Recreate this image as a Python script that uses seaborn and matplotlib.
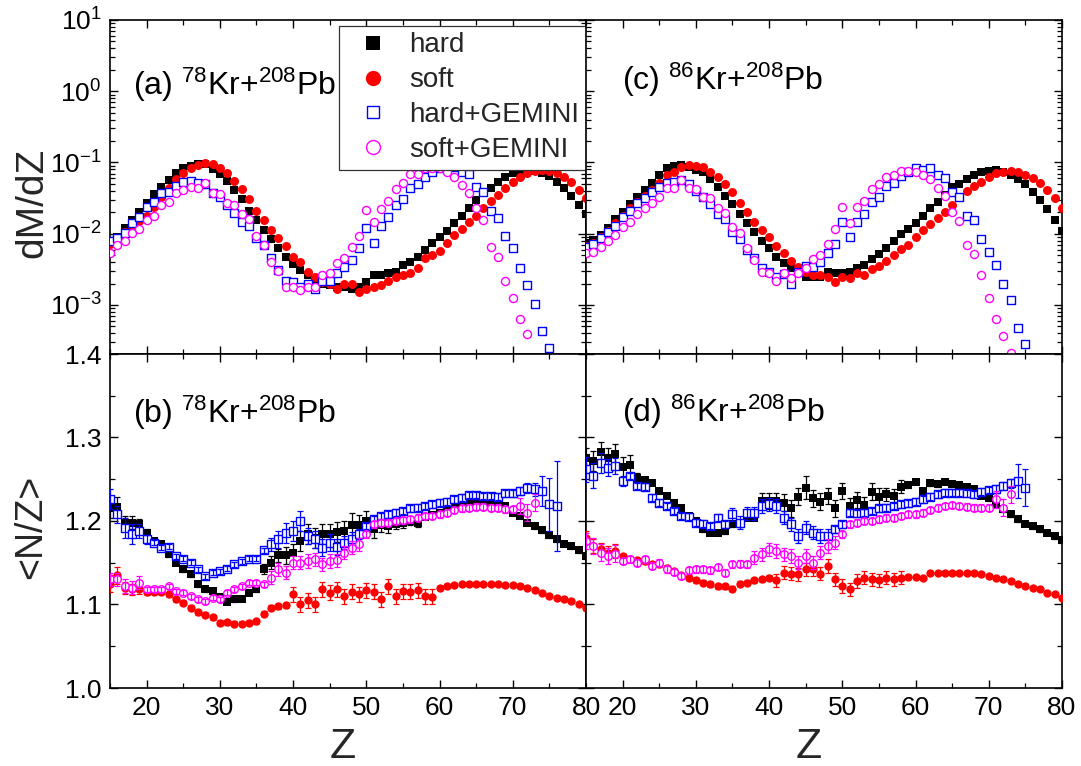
import numpy as np
import matplotlib
matplotlib.use("Agg")
import matplotlib.pyplot as plt
import seaborn as sns
from matplotlib.ticker import MultipleLocator, FormatStrFormatter, NullFormatter, LogLocator
from matplotlib.lines import Line2D

# ---------------- data ----------------
Z_full = np.arange(15, 81)     # hard / soft
Z_to75 = np.arange(15, 76)
Z_to76 = np.arange(15, 77)
Z_to72 = np.arange(15, 73)
Z_to73 = np.arange(15, 74)

# panel (a) 78Kr+208Pb dM/dZ
a_hard = [0.0078, 0.0089, 0.012, 0.0155, 0.020, 0.027, 0.036, 0.046, 0.056, 0.071,
          0.083, 0.089, 0.095, 0.094, 0.081, 0.069, 0.055, 0.041, 0.031, 0.021,
          0.0155, 0.0112, 0.0085, 0.0063, 0.0047, 0.0038, 0.0031, 0.0026, 0.0022, 0.0020,
          0.0019, 0.0018, 0.0018, 0.0017, 0.0018, 0.0021, 0.0026, 0.0026, 0.0028, 0.0029,
          0.0036, 0.0040, 0.0047, 0.0059, 0.0074, 0.0089, 0.011, 0.014, 0.018, 0.023,
          0.030, 0.037, 0.044, 0.053, 0.063, 0.071, 0.076, 0.078, 0.077, 0.072,
          0.065, 0.054, 0.044, 0.034, 0.025, 0.019]
a_soft = [0.0072, 0.0085, 0.0105, 0.013, 0.015, 0.018, 0.024, 0.033, 0.044, 0.059,
          0.071, 0.083, 0.092, 0.097, 0.094, 0.083, 0.071, 0.055, 0.043, 0.031,
          0.021, 0.0155, 0.0112, 0.0087, 0.0068, 0.0047, 0.0040, 0.0029, 0.0025, 0.0021,
          0.0020, 0.0017, 0.0020, 0.0020, 0.0015, 0.0017, 0.0018, 0.0019, 0.0022, 0.0025,
          0.0026, 0.0028, 0.0033, 0.0046, 0.0050, 0.0057, 0.0074, 0.0095, 0.0116, 0.0146,
          0.018, 0.023, 0.029, 0.035, 0.044, 0.053, 0.063, 0.071, 0.077, 0.079,
          0.075, 0.071, 0.063, 0.054, 0.041, 0.032]
a_hg = [0.0080, 0.0087, 0.0103, 0.0141, 0.0174, 0.024, 0.028, 0.037, 0.038, 0.047,
        0.054, 0.055, 0.052, 0.050, 0.037, 0.033, 0.025, 0.0195, 0.0145, 0.013,
        0.0087, 0.0069, 0.0046, 0.0031, 0.0022, 0.0021, 0.0018, 0.0020, 0.0017, 0.0022,
        0.0022, 0.0028, 0.0034, 0.0043, 0.0063, 0.012, 0.0074, 0.013, 0.0173, 0.025,
        0.031, 0.044, 0.050, 0.063, 0.074, 0.083, 0.086, 0.086, 0.074, 0.069,
        0.046, 0.039, 0.021, 0.0166, 0.0094, 0.0063, 0.0033, 0.0019, 0.00103, 0.00043,
        0.00025]
a_sg = [0.0054, 0.0069, 0.0078, 0.0101, 0.0118, 0.0155, 0.018, 0.025, 0.028, 0.037,
        0.041, 0.045, 0.044, 0.051, 0.037, 0.036, 0.027, 0.025, 0.019, 0.016,
        0.0094, 0.0069, 0.0040, 0.0030, 0.0018, 0.0018, 0.0016, 0.0018, 0.0018, 0.0026,
        0.0028, 0.0039, 0.0046, 0.0065, 0.0094, 0.0215, 0.0146, 0.022, 0.029, 0.042,
        0.051, 0.069, 0.069, 0.084, 0.084, 0.084, 0.074, 0.063, 0.048, 0.037,
        0.023, 0.0155, 0.0065, 0.0047, 0.0022, 0.00124, 0.00064, 0.00039]

# panel (c) 86Kr+208Pb dM/dZ
c_hard = [0.0075, 0.0082, 0.0097, 0.012, 0.016, 0.020, 0.026, 0.033, 0.041, 0.051,
          0.066, 0.084, 0.089, 0.092, 0.086, 0.078, 0.074, 0.059, 0.046, 0.034,
          0.026, 0.019, 0.014, 0.0106, 0.0078, 0.0063, 0.0047, 0.0039, 0.0033, 0.0029,
          0.0025, 0.0025, 0.0025, 0.0029, 0.0028, 0.0028, 0.0029, 0.0033, 0.0036, 0.0044,
          0.0052, 0.0063, 0.0078, 0.0099, 0.0116, 0.014, 0.018, 0.023, 0.028, 0.035,
          0.046, 0.050, 0.059, 0.066, 0.074, 0.076, 0.078, 0.074, 0.066, 0.059,
          0.050, 0.039, 0.030, 0.022, 0.0155, 0.011]
c_soft = [0.0068, 0.0075, 0.009, 0.011, 0.014, 0.018, 0.023, 0.028, 0.034, 0.041,
          0.051, 0.066, 0.074, 0.086, 0.092, 0.089, 0.086, 0.074, 0.063, 0.050,
          0.039, 0.027, 0.020, 0.0146, 0.0112, 0.0089, 0.0068, 0.0054, 0.0042, 0.0034,
          0.0029, 0.0026, 0.0026, 0.0025, 0.0021, 0.0025, 0.0024, 0.0028, 0.0026, 0.0032,
          0.0035, 0.0041, 0.0051, 0.0061, 0.0069, 0.0089, 0.0112, 0.0137, 0.0166, 0.020,
          0.025, 0.033, 0.040, 0.047, 0.053, 0.063, 0.071, 0.074, 0.076, 0.074,
          0.066, 0.061, 0.051, 0.041, 0.032, 0.023]
c_hg = [0.0065, 0.0072, 0.0088, 0.0106, 0.013, 0.017, 0.021, 0.027, 0.032, 0.039,
        0.046, 0.051, 0.053, 0.056, 0.050, 0.040, 0.033, 0.026, 0.019, 0.016,
        0.0106, 0.0085, 0.0059, 0.0046, 0.0033, 0.0029, 0.0025, 0.0027, 0.0020, 0.0029,
        0.0035, 0.0034, 0.0040, 0.0053, 0.0071, 0.0146, 0.0089, 0.0146, 0.019, 0.028,
        0.033, 0.047, 0.051, 0.064, 0.074, 0.083, 0.078, 0.083, 0.067, 0.060,
        0.039, 0.033, 0.018, 0.0155, 0.0085, 0.0056, 0.0036, 0.0020, 0.00117, 0.00047,
        0.00028]
c_sg = [0.0054, 0.0056, 0.0065, 0.0078, 0.0095, 0.0124, 0.0146, 0.019, 0.023, 0.027,
        0.033, 0.044, 0.044, 0.056, 0.044, 0.043, 0.033, 0.032, 0.023, 0.0195,
        0.0124, 0.0101, 0.0063, 0.0043, 0.0029, 0.0028, 0.0022, 0.0028, 0.0024, 0.0028,
        0.0033, 0.0044, 0.0050, 0.0071, 0.0116, 0.024, 0.014, 0.024, 0.029, 0.042,
        0.050, 0.063, 0.066, 0.076, 0.076, 0.074, 0.066, 0.059, 0.044, 0.034,
        0.020, 0.015, 0.0069, 0.0052, 0.0026, 0.00127, 0.00063, 0.00037, 0.00021]

# panel (b) 78Kr+208Pb <N/Z>
b_hard = [1.215, 1.217, 1.198, 1.198, 1.196, 1.186, 1.176, 1.172, 1.160, 1.150,
          1.142, 1.136, 1.124, 1.118, 1.116, 1.109, 1.103, 1.106, 1.107, 1.114,
          1.118, 1.143, 1.150, 1.159, 1.159, 1.162, 1.176, 1.184, 1.180, 1.184,
          1.184, 1.187, 1.188, 1.195, 1.195, 1.200, 1.190, 1.195, 1.194, 1.197,
          1.198, 1.200, 1.198, 1.205, 1.207, 1.210, 1.212, 1.215, 1.218, 1.220,
          1.222, 1.222, 1.222, 1.220, 1.218, 1.210, 1.206, 1.198, 1.194, 1.189,
          1.183, 1.178, 1.173, 1.170, 1.165, 1.158]
b_hard_err = ([0.012, 0.012, 0.008, 0.008, 0.006, 0.005] + [0.003] * 15 +
              [0.006, 0.008, 0.008, 0.010, 0.010, 0.012, 0.012, 0.012, 0.012, 0.012, 0.012,
               0.012, 0.014, 0.012, 0.012, 0.010, 0.008, 0.008, 0.006, 0.006, 0.005, 0.005] +
              [0.003] * 23)
b_soft = [1.125, 1.135, 1.120, 1.118, 1.118, 1.115, 1.115, 1.115, 1.112, 1.106,
          1.102, 1.096, 1.091, 1.088, 1.085, 1.078, 1.079, 1.077, 1.077, 1.078,
          1.080, 1.089, 1.096, 1.098, 1.099, 1.112, 1.100, 1.105, 1.100, 1.118,
          1.114, 1.118, 1.110, 1.115, 1.112, 1.117, 1.115, 1.106, 1.122, 1.110,
          1.116, 1.115, 1.117, 1.110, 1.109, 1.120, 1.122, 1.123, 1.124, 1.124,
          1.125, 1.124, 1.125, 1.124, 1.123, 1.123, 1.122, 1.120, 1.117, 1.114,
          1.110, 1.108, 1.106, 1.104, 1.100, 1.096]
b_soft_err = [0.010, 0.010, 0.007, 0.007, 0.006, 0.004] + [0.003] * 19 + [0.009] * 20 + [0.002] * 21
b_hg = [1.226, 1.208, 1.192, 1.184, 1.188, 1.178, 1.174, 1.168, 1.169, 1.158,
        1.155, 1.150, 1.142, 1.134, 1.138, 1.140, 1.143, 1.148, 1.152, 1.155,
        1.155, 1.165, 1.172, 1.178, 1.186, 1.188, 1.200, 1.182, 1.178, 1.168,
        1.174, 1.169, 1.174, 1.179, 1.185, 1.194, 1.202, 1.206, 1.208, 1.210,
        1.212, 1.215, 1.216, 1.218, 1.220, 1.222, 1.223, 1.226, 1.228, 1.231,
        1.231, 1.230, 1.230, 1.229, 1.233, 1.233, 1.236, 1.239, 1.238, 1.236,
        1.220, 1.218]
b_hg_err = ([0.012, 0.010, 0.012, 0.012, 0.008, 0.005] + [0.003] * 16 +
            [0.008, 0.010, 0.012, 0.012, 0.012, 0.010, 0.010, 0.010, 0.010, 0.010, 0.008, 0.008, 0.006] +
            [0.004] * 21 + [0.005, 0.006, 0.008, 0.018, 0.032, 0.054])
b_sg = [1.130, 1.130, 1.122, 1.120, 1.126, 1.118, 1.118, 1.118, 1.122, 1.116,
        1.114, 1.110, 1.106, 1.104, 1.108, 1.106, 1.114, 1.118, 1.122, 1.126,
        1.126, 1.124, 1.132, 1.142, 1.138, 1.150, 1.150, 1.152, 1.154, 1.148,
        1.152, 1.153, 1.162, 1.168, 1.172, 1.184, 1.196, 1.198, 1.198, 1.200,
        1.201, 1.202, 1.204, 1.206, 1.206, 1.208, 1.210, 1.213, 1.215, 1.216,
        1.217, 1.217, 1.216, 1.216, 1.214, 1.214, 1.218, 1.210, 1.222]
b_sg_err = [0.008] * 5 + [0.003] * 17 + [0.008] * 13 + [0.004] * 21 + [0.010] * 3

# panel (d) 86Kr+208Pb <N/Z>
d_hard = [1.276, 1.272, 1.283, 1.276, 1.280, 1.265, 1.267, 1.252, 1.249, 1.246,
          1.236, 1.230, 1.222, 1.215, 1.206, 1.200, 1.190, 1.186, 1.186, 1.188,
          1.196, 1.196, 1.204, 1.204, 1.224, 1.224, 1.224, 1.222, 1.215, 1.229,
          1.240, 1.227, 1.223, 1.230, 1.215, 1.236, 1.218, 1.225, 1.219, 1.235,
          1.229, 1.232, 1.230, 1.241, 1.243, 1.247, 1.236, 1.245, 1.244, 1.247,
          1.244, 1.243, 1.241, 1.238, 1.230, 1.227, 1.220, 1.214, 1.208, 1.202,
          1.197, 1.194, 1.190, 1.186, 1.182, 1.177]
d_hard_err = ([0.012] * 7 + [0.006] + [0.003] * 16 +
              [0.010, 0.010, 0.010, 0.010, 0.010, 0.010, 0.014, 0.010, 0.010, 0.010,
               0.010, 0.010, 0.010, 0.010, 0.010, 0.010, 0.010, 0.008, 0.008, 0.008] +
              [0.003] * 22)
d_soft = [1.180, 1.170, 1.166, 1.162, 1.164, 1.158, 1.154, 1.153, 1.152, 1.148,
          1.148, 1.144, 1.140, 1.135, 1.132, 1.129, 1.126, 1.124, 1.122, 1.122,
          1.119, 1.125, 1.126, 1.129, 1.130, 1.132, 1.129, 1.138, 1.137, 1.136,
          1.142, 1.142, 1.137, 1.146, 1.130, 1.122, 1.118, 1.128, 1.132, 1.130,
          1.129, 1.132, 1.130, 1.132, 1.133, 1.133, 1.132, 1.138, 1.138, 1.138,
          1.138, 1.138, 1.138, 1.138, 1.137, 1.134, 1.132, 1.130, 1.128, 1.125,
          1.122, 1.120, 1.118, 1.114, 1.112, 1.108]
d_soft_err = [0.008] * 5 + [0.003] * 21 + [0.008] * 18 + [0.002] * 22
d_hg = [1.262, 1.254, 1.270, 1.264, 1.266, 1.248, 1.254, 1.242, 1.241, 1.228,
        1.222, 1.218, 1.212, 1.206, 1.205, 1.198, 1.197, 1.194, 1.204, 1.196,
        1.208, 1.198, 1.209, 1.209, 1.218, 1.220, 1.218, 1.204, 1.196, 1.182,
        1.192, 1.186, 1.182, 1.182, 1.190, 1.196, 1.210, 1.209, 1.210, 1.212,
        1.215, 1.216, 1.218, 1.220, 1.221, 1.223, 1.226, 1.229, 1.232, 1.234,
        1.234, 1.234, 1.233, 1.232, 1.235, 1.237, 1.238, 1.242, 1.245, 1.248,
        1.240]
d_hg_err = ([0.015, 0.015, 0.012, 0.010, 0.010, 0.006] + [0.004] * 14 + [0.008] * 14 +
            [0.004] * 22 + [0.005] * 3 + [0.020, 0.022])
d_sg = [1.176, 1.170, 1.162, 1.158, 1.161, 1.152, 1.154, 1.150, 1.154, 1.146,
        1.150, 1.142, 1.139, 1.134, 1.141, 1.142, 1.142, 1.141, 1.145, 1.138,
        1.148, 1.149, 1.148, 1.156, 1.160, 1.166, 1.164, 1.160, 1.158, 1.150,
        1.158, 1.150, 1.162, 1.170, 1.174, 1.184, 1.196, 1.198, 1.200, 1.200,
        1.202, 1.204, 1.204, 1.206, 1.208, 1.208, 1.210, 1.213, 1.216, 1.218,
        1.219, 1.218, 1.217, 1.216, 1.216, 1.216, 1.226, 1.216, 1.232]
d_sg_err = [0.010] * 5 + [0.004] * 18 + [0.008] * 12 + [0.004] * 21 + [0.010] * 3

labels = ["hard", "soft", "hard+GEMINI", "soft+GEMINI"]

# ---------------- style ----------------
sns.set_theme(style="ticks")
plt.rcParams['font.family'] = ['Liberation Sans', 'DejaVu Sans']
plt.rcParams['mathtext.fontset'] = 'custom'
plt.rcParams['mathtext.rm'] = 'Liberation Sans'
plt.rcParams['mathtext.it'] = 'Liberation Sans:italic'
plt.rcParams['mathtext.bf'] = 'Liberation Sans:bold'

BLACK, RED, BLUE, MAG = "#000000", "#FF0000", "#0000FF", "#FF00FF"

W, H = 1081, 766
fig = plt.figure(figsize=(W / 100, H / 100), dpi=100)


def rect(x0, x1, y0, y1):
    return [x0 / W, 1 - y1 / H, (x1 - x0) / W, (y1 - y0) / H]


axA = fig.add_axes(rect(110, 586, 20, 354))
axC = fig.add_axes(rect(586, 1062, 20, 354))
axB = fig.add_axes(rect(110, 586, 354, 688))
axD = fig.add_axes(rect(586, 1062, 354, 688))


def draw_top(ax, hard, soft, hg, sg, zhg, zsg):
    ax.set_yscale('log')
    sns.scatterplot(x=Z_full, y=hard, ax=ax, marker='s', s=32, color=BLACK,
                    edgecolor=BLACK, linewidth=0, zorder=2, legend=False)
    sns.scatterplot(x=Z_full, y=soft, ax=ax, marker='o', s=42, color=RED,
                    edgecolor=RED, linewidth=0, zorder=3, legend=False)
    sns.scatterplot(x=zhg, y=hg, ax=ax, marker='s', s=28, facecolor='white',
                    edgecolor=BLUE, linewidth=1.0, zorder=4, legend=False)
    sns.scatterplot(x=zsg, y=sg, ax=ax, marker='o', s=34, facecolor='white',
                    edgecolor=MAG, linewidth=1.0, zorder=5, legend=False)
    ax.set_ylim(2.05e-4, 10)


def draw_bottom(ax, hard, he, soft, se, hg, hge, sg, sge, zhg, zsg):
    ax.errorbar(Z_full, hard, yerr=he, fmt='none', ecolor=BLACK, elinewidth=0.9,
                capsize=2.5, capthick=0.9, zorder=1.9)
    sns.scatterplot(x=Z_full, y=hard, ax=ax, marker='s', s=28, color=BLACK,
                    edgecolor=BLACK, linewidth=0, zorder=2, legend=False)
    ax.errorbar(Z_full, soft, yerr=se, fmt='none', ecolor=RED, elinewidth=0.9,
                capsize=2.5, capthick=0.9, zorder=2.9)
    sns.scatterplot(x=Z_full, y=soft, ax=ax, marker='o', s=36, color=RED,
                    edgecolor=RED, linewidth=0, zorder=3, legend=False)
    sns.scatterplot(x=zhg, y=hg, ax=ax, marker='s', s=26, facecolor='white',
                    edgecolor=BLUE, linewidth=1.0, zorder=4, legend=False)
    ax.errorbar(zhg, hg, yerr=hge, fmt='none', ecolor=BLUE, elinewidth=0.9,
                capsize=2.5, capthick=0.9, zorder=4.1)
    sns.scatterplot(x=zsg, y=sg, ax=ax, marker='o', s=30, facecolor='white',
                    edgecolor=MAG, linewidth=1.0, zorder=5, legend=False)
    ax.errorbar(zsg, sg, yerr=sge, fmt='none', ecolor=MAG, elinewidth=0.9,
                capsize=2.5, capthick=0.9, zorder=5.1)
    ax.set_ylim(1.0, 1.4)
    ax.yaxis.set_major_locator(MultipleLocator(0.1))
    ax.yaxis.set_minor_locator(MultipleLocator(0.05))
    ax.yaxis.set_major_formatter(FormatStrFormatter('%.1f'))


draw_top(axA, a_hard, a_soft, a_hg, a_sg, Z_to75, Z_to72)
draw_top(axC, c_hard, c_soft, c_hg, c_sg, Z_to75, Z_to73)
draw_bottom(axB, b_hard, b_hard_err, b_soft, b_soft_err, b_hg, b_hg_err, b_sg, b_sg_err,
            Z_to76, Z_to73)
draw_bottom(axD, d_hard, d_hard_err, d_soft, d_soft_err, d_hg, d_hg_err, d_sg, d_sg_err,
            Z_to75, Z_to73)

for ax in (axA, axB, axC, axD):
    ax.set_xlim(15, 80)
    ax.xaxis.set_major_locator(MultipleLocator(10))
    ax.xaxis.set_minor_locator(MultipleLocator(5))
    for sp in ax.spines.values():
        sp.set_linewidth(1.2)
        sp.set_color('black')
    ax.tick_params(which='both', direction='in', top=True, right=True,
                   colors='black', labelsize=19)
    ax.tick_params(which='major', length=6, width=1.0, pad=6)
    ax.tick_params(which='minor', length=3.5, width=0.9)
    ax.set_xlabel('')
    ax.set_ylabel('')
    ax.set_facecolor('white')

for ax in (axA, axC):
    ax.tick_params(labelbottom=False)
    ax.yaxis.set_major_locator(LogLocator(base=10, numticks=10))
    ax.yaxis.set_minor_locator(LogLocator(base=10, subs=np.arange(2, 10), numticks=50))
    ax.yaxis.set_minor_formatter(NullFormatter())
for ax in (axC, axD):
    ax.tick_params(labelleft=False)

# panel annotations
txt_kw = dict(fontsize=23, va='baseline', ha='left', color='black')
axA.text(0.048, 0.775, r'(a) $\mathregular{^{78}}$Kr+$\mathregular{^{208}}$Pb',
         transform=axA.transAxes, **txt_kw)
axC.text(0.076, 0.79, r'(c) $\mathregular{^{86}}$Kr+$\mathregular{^{208}}$Pb',
         transform=axC.transAxes, **txt_kw)
axB.text(0.048, 0.793, r'(b) $\mathregular{^{78}}$Kr+$\mathregular{^{208}}$Pb',
         transform=axB.transAxes, **txt_kw)
axD.text(0.076, 0.796, r'(d) $\mathregular{^{86}}$Kr+$\mathregular{^{208}}$Pb',
         transform=axD.transAxes, **txt_kw)

# axis labels
fig.text(32 / W, 1 - 203 / H, 'dM/dZ', rotation=90, ha='center', va='center', fontsize=28)
fig.text(31 / W, 1 - 527 / H, '<N/Z>', rotation=90, ha='center', va='center', fontsize=27)
fig.text(343 / W, 1 - 747 / H, 'Z', ha='center', va='center', fontsize=31)
fig.text(809 / W, 1 - 747 / H, 'Z', ha='center', va='center', fontsize=31)

# legend
handles = [
    Line2D([], [], ls='none', marker='s', markersize=9.5, color=BLACK, markeredgewidth=0),
    Line2D([], [], ls='none', marker='o', markersize=11, color=RED, markeredgewidth=0),
    Line2D([], [], ls='none', marker='s', markersize=9, markerfacecolor='white',
           markeredgecolor=BLUE, markeredgewidth=1.0),
    Line2D([], [], ls='none', marker='o', markersize=10, markerfacecolor='white',
           markeredgecolor=MAG, markeredgewidth=1.0),
]
leg = axA.legend(handles, labels, loc='upper right', bbox_to_anchor=(1.0, 0.983),
                 borderaxespad=0, frameon=True, fancybox=False, framealpha=1,
                 edgecolor='#333333', fontsize=20, handlelength=1.95,
                 handletextpad=0.33, labelspacing=0.32, borderpad=0.24)
leg.get_frame().set_linewidth(0.9)
leg.set_zorder(10)

fig.savefig('out.png', dpi=100, facecolor='white')
